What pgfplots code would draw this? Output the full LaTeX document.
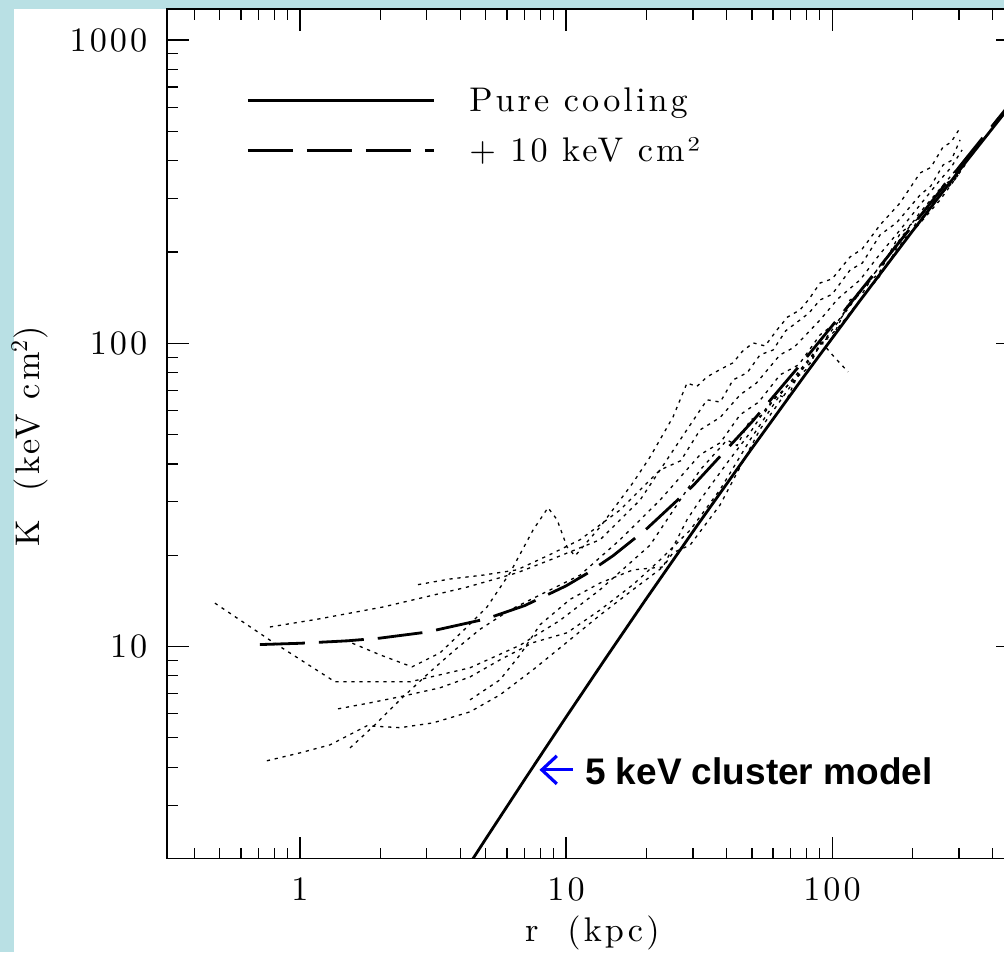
\documentclass[border=0pt]{standalone}
\usepackage{fontspec}
\setmainfont{lmroman10-regular.otf}[LetterSpace=9]
\newfontfamily\lsans{Liberation Sans}
\usepackage{pgfplots}
\pgfplotsset{compat=1.18}
\usetikzlibrary{arrows.meta}
\definecolor{bgblue}{RGB}{185,224,228}
\begin{document}
\begin{tikzpicture}[x=1pt,y=1pt]
\fill[bgblue] (0,0) rectangle (502,476);
\fill[white] (7,0) rectangle (502,471.5);
\begin{scope}
\clip (0,0) rectangle (502,476);
\begin{axis}[
  at={(83.35pt,46.75pt)}, anchor=south west,
  scale only axis, width=425.65pt, height=424.75pt,
  xmode=log, ymode=log,
  xmin=0.3155, xmax=500, ymin=2, ymax=1266,
  xtick={1,10,100}, xticklabels={\mbox{1},\mbox{10},\mbox{100}},
  ytick={10,100,1000}, yticklabels={\mbox{10},\mbox{100},\mbox{1000}},
  minor xtick={0.4,0.5,0.6,0.7,0.8,0.9,2,3,4,5,6,7,8,9,20,30,40,50,60,70,80,90,200,300,400},
  minor ytick={3,4,5,6,7,8,9,20,30,40,50,60,70,80,90,200,300,400,500,600,700,800,900},
  major tick length=11pt, minor tick length=5.5pt,
  tick align=inside,
  every tick/.style={black, line width=0.55pt},
  axis line style={line width=0.8pt},
  tick label style={font=\fontsize{17.1}{20}\selectfont},
  xticklabel style={anchor=center, inner sep=0pt, yshift=-15.25pt},
  yticklabel style={anchor=east, inner sep=0pt, xshift=-9.5pt},
  label style={font=\fontsize{17.1}{20}\selectfont},
  xlabel={r\ \ (kpc)},
  ylabel={K\ \ (keV cm\textsuperscript{2})},
  xlabel style={at={(axis description cs:0.5,0)}, anchor=center, yshift=-37pt},
  ylabel style={at={(axis description cs:-0.161,0.497)}, anchor=center},
  legend cell align=left,
  legend style={draw=none, fill=none, inner sep=0pt, outer sep=0pt,
    at={(axis description cs:0.0937,0.908)}, anchor=north west,
    font=\fontsize{17.1}{20}\selectfont,
    row sep=9pt,
    nodes={inner sep=0pt, anchor=base west, text height=12pt, text depth=4pt},
    /tikz/every odd column/.append style={column sep=17pt}},
  legend image code/.code={\draw[#1] (0pt,5.5pt) -- (93pt,5.5pt);},
  dotc/.style={black, line width=0.65pt, dash pattern=on 1.6pt off 2.4pt, forget plot},
]
% pure cooling model
\addplot[black, line width=1.4pt] coordinates {
(3.98,1.707)(5.01,2.332)(7.08,3.706)(10,5.85)(14.13,9.18)(19.95,14.30)(31.62,25.57)(50.12,45.20)(79.43,78.97)(125.9,136.4)(199.5,232.9)(316.2,393.1)(501.2,655.9)};
\addlegendentry{Pure cooling}
% + 10 keV cm^2
\addplot[black, line width=1.4pt, dash pattern=on 22.5pt off 7pt] coordinates {
(0.707,10.15)(1,10.25)(1.5,10.44)(2,10.66)(3,11.16)(5,12.33)(7,13.65)(10,15.85)(12,17.42)(15,19.91)(19.95,24.30)(30,33.9)(50.12,55.2)(79.43,88.97)(125.9,146.4)(199.5,242.9)(316.2,403.1)(501.2,665.9)};
\addlegendentry{+ 10 keV cm²}
% observed cluster profiles
\addplot[dotc] coordinates {
(0.479,13.9)(0.771,10.5)(1.354,7.65)(2.592,7.65)(4.357,8.51)(6.716,10.1)(9.493,12.2)(13.43,15.4)(20.70,21.6)(26.84,30.4)(31.90,38.2)(40.30,48.0)(44,46)(49.17,55.9)(55,58)(62.11,67.6)(68,66)(75.82,81.7)(83,86)(91.71,102.6)(100,104)(116.9,139.0)(130,146)(151.5,181.3)(165,186)(180.1,219.2)(195,226)(214.2,265.0)(235,280)(261.4,332.9)(290,350)(319.0,402.3)};
\addplot[dotc] coordinates {
(0.771,11.6)(1.159,12.3)(2.051,13.5)(4.245,15.7)(6.544,17.5)(8.706,19.3)(13.43,22.5)(18.98,30.4)(26.84,48.0)(33.89,65.1)(38,64)(42.44,75.7)(48,80)(53.61,91.6)(60,95)(67,110)(75.82,119.4)(82,126)(90.15,139.0)(100,145)(116.9,174.5)(130,184)(151.5,227.7)(175,250)(214.2,308.4)(235,330)(261.4,387.3)(280,400)(302.9,468.4)};
\addplot[dotc] coordinates {
(1.476,10.5)(1.999,9.39)(2.637,8.57)(3.360,9.53)(4.245,11.6)(5.047,13.5)(6.158,17.5)(7.515,24.2)(8.556,28.7)(9.252,26.2)(10.09,21.3)(10.81,19.9)(13.43,24.8)(17.86,34.7)(20.70,42.2)(25.26,57.2)(28.50,74.0)(31,72)(33.89,77.5)(38,82)(42.44,86.2)(46,94)(50.47,100.3)(56,98)(62.11,110.7)(68,122)(75.82,128.9)(82,140)(90.15,158.1)(100,163)(116.9,192.7)(130,205)(151.5,245.6)(180,290)(214.2,364.5)(235,380)(261.4,444.1)(280,460)(302.9,513.3)};
\addplot[dotc] coordinates {
(2.777,16.0)(3.664,16.7)(4.875,17.2)(6.544,17.9)(8.706,20.1)(11.29,22.5)(15.96,28.2)(22.56,38.2)(27,41)(31.90,51.8)(38,57)(45.10,67.6)(52,74)(63.75,91.6)(72,97)(90.15,119.4)(105,140)(127.4,161.8)(150,195)(180.1,236.4)(210,280)(254.7,345.6)(280,380)(308.2,434.1)};
\addplot[dotc] coordinates {
(0.751,4.20)(1,4.46)(1.297,4.74)(1.786,5.48)(2.376,5.40)(3.162,5.60)(4.357,6.09)(5.648,6.93)(7.515,8.38)(9.493,9.9)(13.43,12.7)(17.86,15.4)(23.15,18.3)(28.50,26.2)(31.90,30.4)(40.30,40.3)(49.17,50.7)(56.95,61.7)(69.52,74.0)(80,82)(90.15,98.8)(105,112)(127.4,139.0)(150,165)(180.1,211.0)(215,250)(254.7,297.0)(297.7,359.0)};
\addplot[dotc] coordinates {
(1.390,6.23)(1.833,6.52)(2.376,6.83)(3.360,7.31)(4.357,7.94)(5.648,9.04)(7.515,10.3)(10.09,11.1)(13.43,13.2)(17.86,16.0)(22.56,19.3)(29.26,24.2)(37.93,32.9)(49.17,48.0)(63.75,67.6)(75.82,81.7)(91.71,100.3)(102.6,89.5)(114.9,80.5)};
\addplot[dotc] coordinates {
(1.542,4.63)(1.914,5.52)(2.376,6.67)(3.082,8.25)(3.826,9.75)(4.751,11.4)(6.158,13.2)(7.986,14.8)(11.29,17.2)(15.96,22.5)(22.56,30.4)(31.90,42.9)(38,47)(45.10,58.1)(53,64)(63.75,78.7)(75,85)(90.15,106.6)(105,118)(127.4,150.0)(150,170)(180.1,230.0)(215,262)(254.7,308.4)(285,340)(316.2,387.3)};
\addplot[dotc] coordinates {
(4.357,6.67)(5.648,7.77)(6.716,9.39)(7.986,11.8)(10.35,14.3)(13.43,16.2)(17.86,17.9)(23.15,18.3)(25.26,20.4)(29.26,21.6)(37.93,29.3)(53.61,52.0)(75.82,80.0)(107.2,120.0)(151.5,180.0)(214.2,270.0)(290.0,370.0)};
% annotation
\draw[blue, line width=1.6pt, -{Straight Barb[length=7.5pt, width=14pt, line width=1.6pt]}] (axis cs:10.6,3.92) -- (axis cs:7.95,3.92);
\node[anchor=west, inner sep=0pt, font=\lsans\bfseries\fontsize{18.5}{22}\selectfont] at (axis cs:11.75,3.87) {5 keV cluster model};
\end{axis}
\end{scope}
\pgfresetboundingbox
\path[use as bounding box] (0,0) rectangle (502,476);
\end{tikzpicture}
\end{document}
